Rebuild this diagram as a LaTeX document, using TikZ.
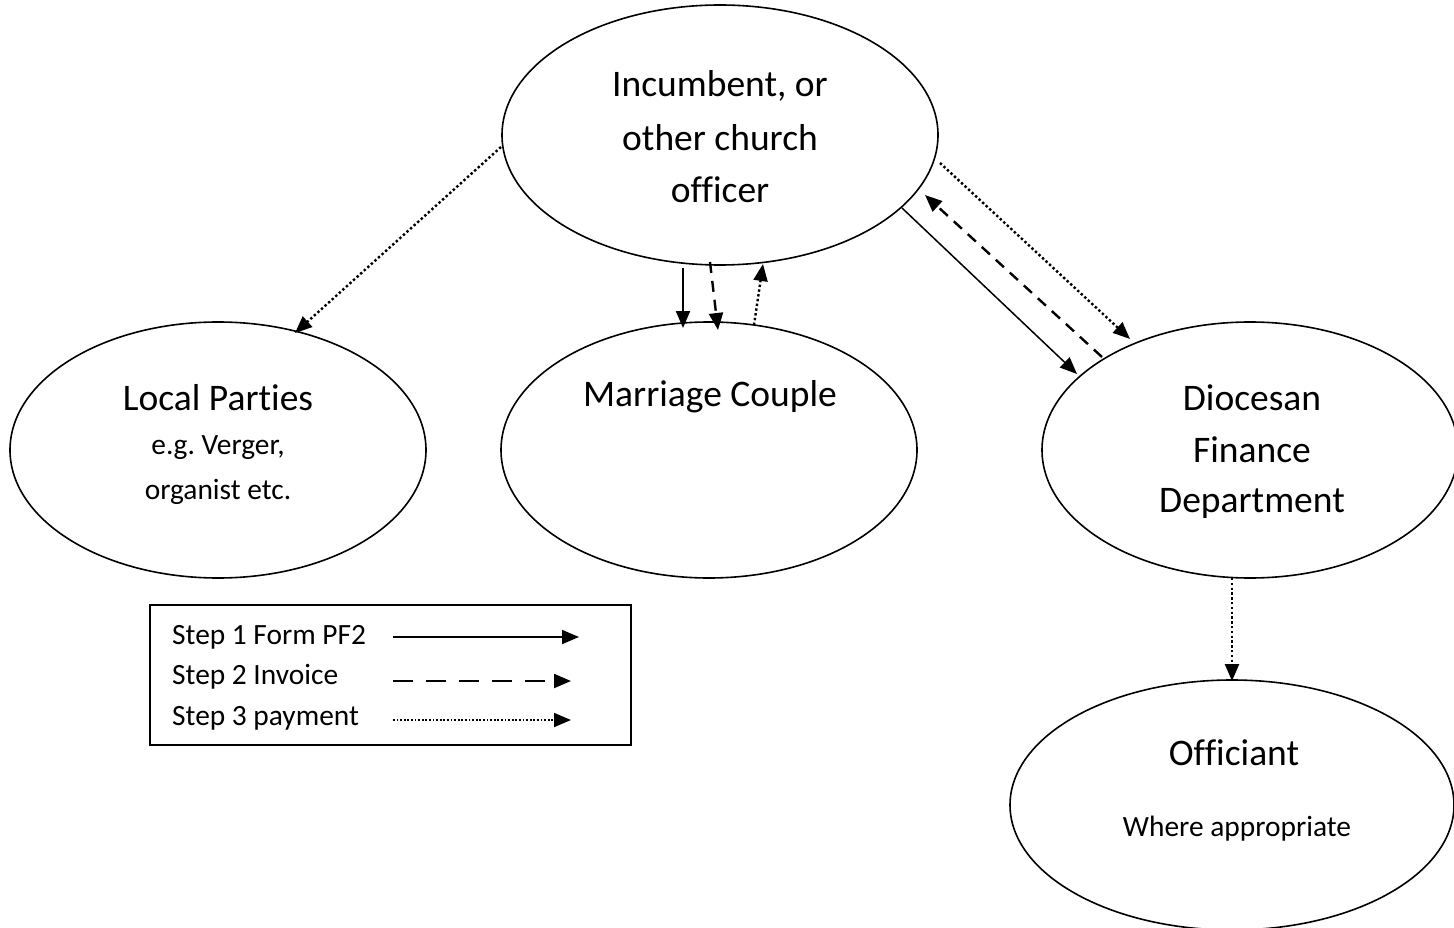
\documentclass[tikz,border=0pt]{standalone}
\usepackage{fontspec}
\setmainfont[RawFeature={-liga;-clig;-calt;-dlig}]{Carlito}
\frenchspacing
\usetikzlibrary{arrows.meta,shapes.geometric}
\begin{document}
\begin{tikzpicture}[x=1pt,y=-1pt,
  ell/.style={draw,line width=1.6pt,ellipse,inner sep=0pt},
  big/.style={font=\fontsize{37.5}{42}\selectfont,inner sep=0pt},
  small/.style={font=\fontsize{29.4}{33}\selectfont,inner sep=0pt},
  arr/.style={line width=1.8pt,-{Triangle[length=17pt,width=14pt]}},
  dotl/.style={arr,line width=2.4pt,dash pattern=on 2.4pt off 2.4pt},
  dashl/.style={arr,line width=2.4pt,dash pattern=on 11pt off 8pt},
  legdash/.style={arr,line width=2.2pt,dash pattern=on 20pt off 13pt}]
\useasboundingbox (0,0) rectangle (1454,928);
\fill[white] (0,0) rectangle (1454,928);
% ellipses
\node[ell,minimum width=436pt,minimum height=260pt] (inc) at (720,135) {};
\node[ell,minimum width=416pt,minimum height=256pt] (loc) at (218,450) {};
\node[ell,minimum width=416pt,minimum height=256pt] (mar) at (709,450) {};
\node[ell,minimum width=416pt,minimum height=256pt] (dio) at (1250,450) {};
\node[ell,minimum width=444pt,minimum height=250pt] (off) at (1232,805) {};
% texts
\node[big] (t1) at (720,86) {Incumbent, or};
\node[big] (t2) at (720,138) {other church};
\node[big] (t3) at (720,190) {officer};
\node[big] (t4) at (218,398) {Local Parties};
\node[small] (t5) at (218,448) {e.g. Verger,};
\node[small] (t6) at (218,492) {organist etc.};
\node[big] (t7) at (710,397) {Marriage Couple};
\node[big] (t8) at (1252,398) {Diocesan};
\node[big] (t9) at (1252,450) {Finance};
\node[big] (t10) at (1252,503) {Department};
\node[big] (t11) at (1234,753) {Officiant};
\node[small] (t12) at (1237,829) {Where appropriate};
% connector endpoints
\coordinate (a1) at (501,147); \coordinate (a2) at (295,333);
\coordinate (b1) at (683,268); \coordinate (b2) at (683,328);
\coordinate (c1) at (710,262); \coordinate (c2) at (718,330);
\coordinate (d1) at (754,325); \coordinate (d2) at (763,264);
\coordinate (e1) at (902,208); \coordinate (e2) at (1077,374);
\coordinate (f1) at (1102,357); \coordinate (f2) at (925,195);
\coordinate (g1) at (940,163); \coordinate (g2) at (1130,339);
\coordinate (h1) at (1232,578); \coordinate (h2) at (1232,681);
\draw[dotl] (a1) -- (a2);
\draw[arr,line width=2.2pt] (b1) -- (b2);
\draw[dashl] (c1) -- (c2);
\draw[dotl] (d1) -- (d2);
\draw[arr,line width=1.5pt] (e1) -- (e2);
\draw[dashl] (f1) -- (f2);
\draw[dotl] (g1) -- (g2);
\draw[dotl] (h1) -- (h2);
% legend
\node[draw,line width=1.3pt,minimum width=481pt,minimum height=140pt,inner sep=0pt] (leg) at (390.5,675) {};
\node[small,anchor=west] (l1) at (172,637) {Step 1 Form PF2};
\node[small,anchor=west] (l2) at (172,677) {Step 2 Invoice};
\node[small,anchor=west] (l3) at (172,718) {Step 3 payment};
\coordinate (m1) at (393,637); \coordinate (m2) at (579,637);
\coordinate (n1) at (393,681); \coordinate (n2) at (571,681);
\coordinate (o1) at (393,720); \coordinate (o2) at (571,720);
\draw[arr] (m1) -- (m2);
\draw[legdash] (n1) -- (n2);
\draw[dotl,line width=1.8pt,dash pattern=on 1.8pt off 1.8pt] (o1) -- (o2);
\end{tikzpicture}
\end{document}
